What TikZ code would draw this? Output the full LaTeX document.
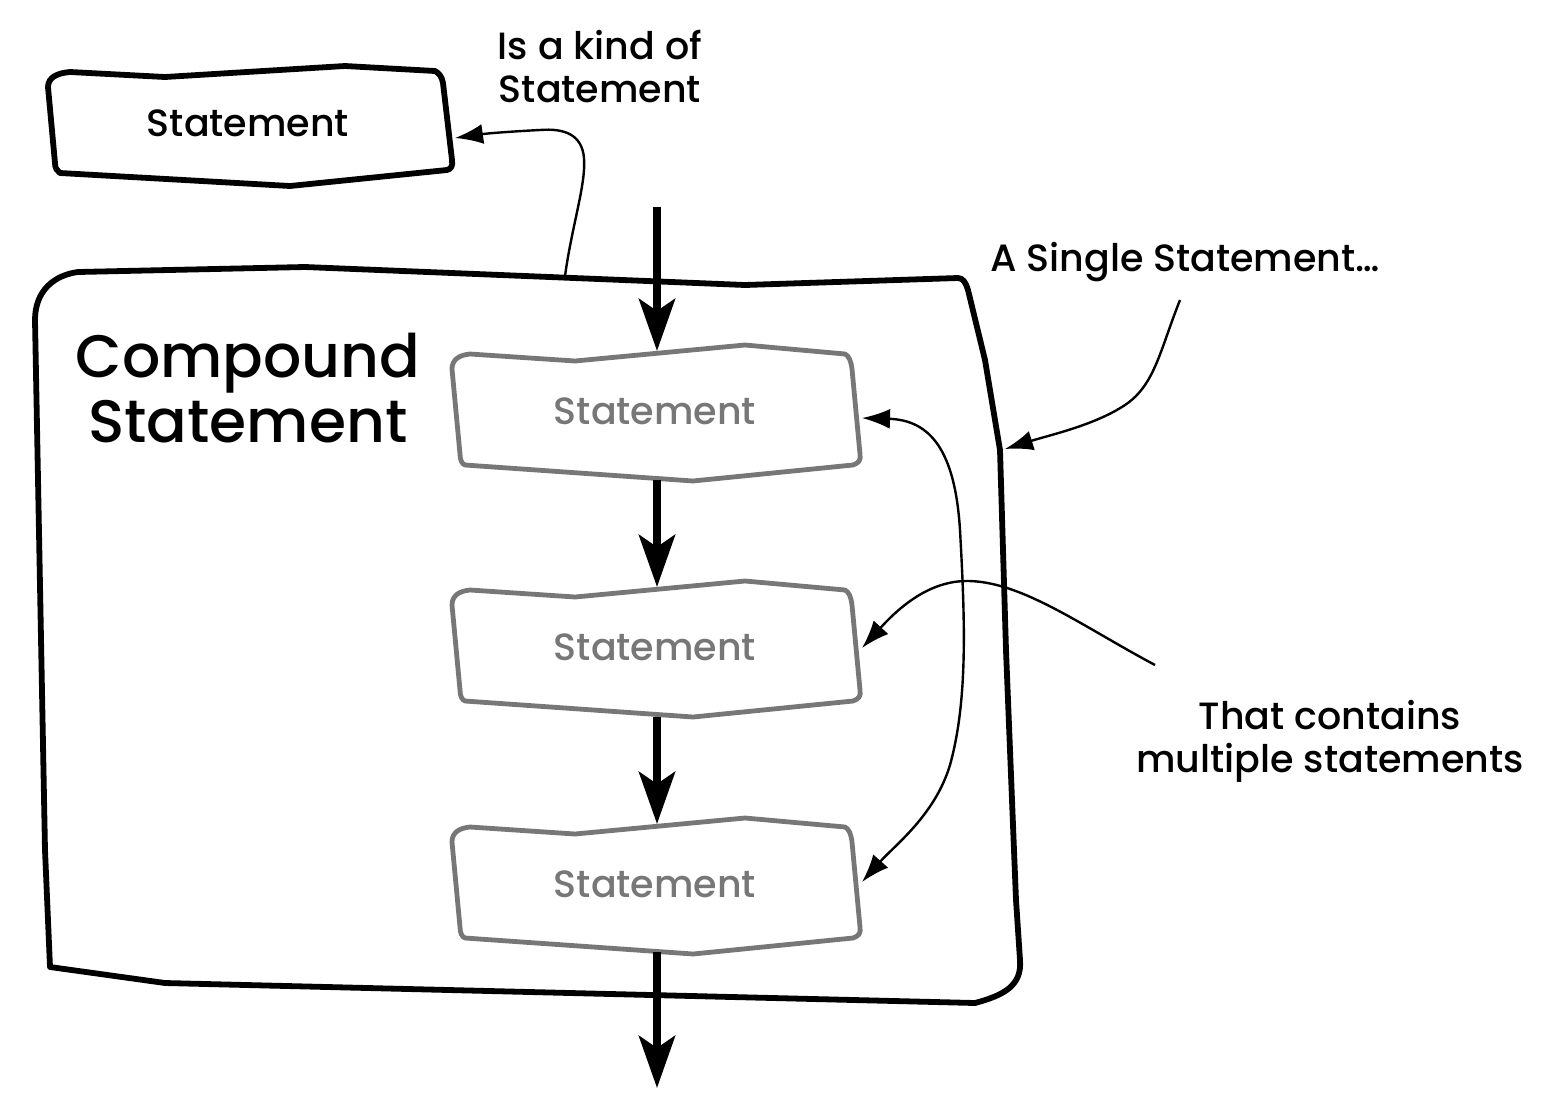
\documentclass[tikz,border=0pt]{standalone}
\usepackage{fontspec}
\setmainfont{Poppins Medium}
\usetikzlibrary{arrows.meta}
\definecolor{boxgray}{HTML}{777777}
\newcommand{\stmtoutline}{(-203,-42) .. controls (-203,-52) and (-195,-56) .. (-185,-57) -- (-80,-50) -- (90,-66) -- (190,-57) .. controls (194,-55) and (196,-50) .. (197,-42) -- (205,43) .. controls (206,49) and (204,52) .. (198,54) -- (38,70) -- (-190,54) .. controls (-193,53) and (-195,49) .. (-195,43) -- cycle}
\begin{document}
\begin{tikzpicture}[x=0.5pt,y=-0.5pt,
  lbl/.style={font=\fontsize{19}{21.5}\selectfont, align=center, inner sep=0},
  stmttext/.style={font=\fontsize{19}{22}\selectfont, inner sep=0},
  bigtext/.style={font=\fontsize{30}{32.5}\selectfont, align=center, inner sep=0},
  flow/.style={line width=4pt, -{Stealth[length=26pt,width=18pt,inset=6pt]}},
  note/.style={line width=1.2pt, -{Latex[length=14pt,width=10pt]}},
  notetwo/.style={line width=1.2pt, {Latex[length=14pt,width=10pt]}-{Latex[length=14pt,width=10pt]}},
  blackbox/.style={line width=2.9pt, line join=round, fill=white},
  graybox/.style={line width=2.4pt, draw=boxgray, line join=round, fill=white},
]
\useasboundingbox (0,0) rectangle (1553,1109);

% Compound statement outline
\draw[blackbox] (35,320) .. controls (35,290) and (55,275) .. (78,272) -- (305,267) -- (745,285) -- (958,278) .. controls (963,278) and (966,283) .. (968,290) -- (985,360) -- (1000,450) -- (1006,650) -- (1016,900) -- (1020,960) .. controls (1022,985) and (1005,995) .. (975,1003) -- (165,983) -- (50,967) -- (45,850) -- cycle;
\node[bigtext] (compound) at (248,388) {Compound\\Statement};

% Top statement box
\begin{scope}[shift={(248,123)}]
\draw[blackbox] (-200,-36) .. controls (-200,-46) and (-190,-50) .. (-178,-51) -- (-83,-46) -- (97,-57) -- (187,-52) .. controls (191,-50) and (194,-46) .. (195,-40) -- (204,37) .. controls (205,43) and (203,46) .. (199,47) -- (42,63) -- (-188,50) .. controls (-191,48) and (-193,45) .. (-193,40) -- cycle;
\end{scope}
\node[stmttext] (st0) at (248,123) {Statement};

% Gray statement boxes
\foreach \yy in {411,647,884}{
  \begin{scope}[shift={(655,\yy)}]
  \draw[graybox] \stmtoutline;
  \end{scope}
}
\node[stmttext, text=boxgray] (s1) at (655,411) {Statement};
\node[stmttext, text=boxgray] (s2) at (655,647) {Statement};
\node[stmttext, text=boxgray] (s3) at (655,884) {Statement};

% connector coordinates
\coordinate (inflow) at (657,207);
\coordinate (s1top) at (657,351);
\coordinate (s1bot) at (657,480);
\coordinate (s2top) at (657,587);
\coordinate (s2bot) at (657,717);
\coordinate (s3top) at (657,824);
\coordinate (s3bot) at (657,952);
\coordinate (outflow) at (657,1088);

\draw[flow] (inflow) -- (s1top);
\draw[flow] (s1bot) -- (s2top);
\draw[flow] (s2bot) -- (s3top);
\draw[flow] (s3bot) -- (outflow);

% Labels
\node[lbl] (kind) at (600,66) {Is a kind of\\Statement};
\node[lbl, anchor=west] (single) at (990,262) {A Single Statement…};
\node[lbl] (contains) at (1330,741) {That contains\\multiple statements};

% thin annotation arrows
\coordinate (kindtail) at (565,276);
\coordinate (st0right) at (455,138);
\draw[note] (kindtail) .. controls (572,225) and (586,185) .. (584,158) .. controls (582,135) and (565,128) .. (540,130) .. controls (520,131) and (490,133) .. (st0right);

\coordinate (singletail) at (1180,300);
\coordinate (compright) at (1005,449);
\draw[note] (singletail) .. controls (1160,350) and (1155,385) .. (1125,405) .. controls (1095,425) and (1050,435) .. (compright);

\coordinate (s1right) at (862,418);
\coordinate (s3right) at (862,882);
\draw[notetwo] (s1right) .. controls (930,420) and (955,450) .. (960,530) .. controls (965,620) and (968,700) .. (950,765) .. controls (935,815) and (895,845) .. (s3right);

\coordinate (containstail) at (1155,665);
\coordinate (s2right) at (862,648);
\draw[note] (containstail) .. controls (1080,625) and (1020,580) .. (965,581) .. controls (925,582) and (895,612) .. (s2right);
\end{tikzpicture}
\end{document}
